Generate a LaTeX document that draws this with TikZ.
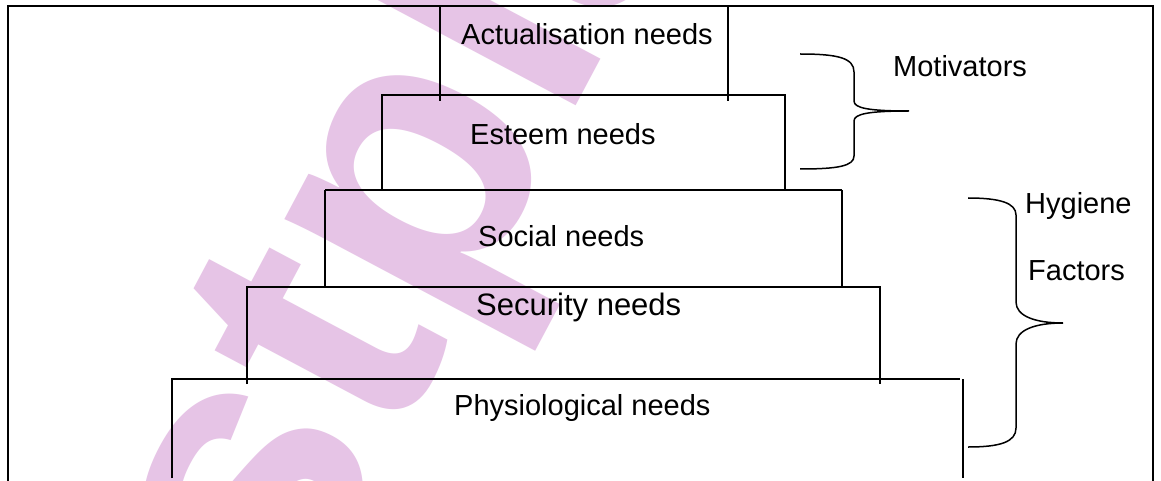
\documentclass[tikz,border=0pt]{standalone}
\usepackage{fontspec}
\setmainfont{Liberation Sans}
\newfontfamily\wmfont{Liberation Sans}
\definecolor{wmpink}{RGB}{230,196,230}
\definecolor{inkpurple}{RGB}{60,25,60}
\tikzset{
  x=1pt, y=-1pt,
  frameline/.style={line width=2pt, black},
  tierline/.style={line width=1.2pt, black},
  thickline/.style={line width=2pt, black},
  bracepath/.style={line width=1.5pt, black},
  lbl/.style={inner sep=0pt, anchor=base west, font=\fontsize{29}{33}\selectfont},
  biglbl/.style={lbl, font=\fontsize{31}{35}\selectfont},
}
\begin{document}
\begin{tikzpicture}
\useasboundingbox (0,0) rectangle (1161,481);
\clip (0,0) rectangle (1161,481);
\fill[white] (0,0) rectangle (1161,481);
% watermark
\node[inner sep=0pt, anchor=base west, rotate=62, text=wmpink,
      font=\wmfont\bfseries\fontsize{385}{385}\selectfont] (wm) at (292,640) {stpla};
% frame
\draw[frameline] (8,490) -- (8,6) -- (1153,6) -- (1153,490);
% actualisation
\draw[tierline] (440,6) -- (440,101);
\draw[tierline] (728,6) -- (728,101);
% esteem
\draw[tierline] (382,190) -- (382,95) -- (785,95) -- (785,190);
\draw[thickline] (382,190) -- (785,190);
% social
\draw[tierline] (325,190) -- (842,190);
\draw[tierline] (325,190) -- (325,287);
\draw[tierline] (842,190) -- (842,287);
\draw[thickline] (325,287) -- (842,287);
% security
\draw[tierline] (247,384) -- (247,287) -- (880,287) -- (880,384);
% physiological
\draw[tierline] (172,478) -- (172,379) -- (960,379);
\draw[tierline] (963,379) -- (963,478);
% labels
\node[lbl] (act) at (461,45) {Actualisation needs};
\node[lbl] (est) at (470,145) {Esteem needs};
\node[lbl] (soc) at (478,246) {Social needs};
\node[biglbl] (sec) at (476,315) {Security needs};
\node[lbl] (phy) at (454,415) {Physiological needs};
\node[lbl] (mot) at (893,77) {Motivators};
\node[lbl] (hyg) at (1025,213) {Hygiene};
\node[lbl] (fac) at (1028,280) {Factors};
% braces
\draw[bracepath] (800,54) .. controls (838,54) and (854,58) .. (854,72)
  -- (854,101) .. controls (854,108) and (868,111) .. (909,111)
  .. controls (868,111) and (854,114) .. (854,121)
  -- (854,156) .. controls (854,166) and (838,169) .. (800,169);
\draw[bracepath] (968,198) .. controls (1000,198) and (1016,203) .. (1016,215)
  -- (1016,302) .. controls (1016,316) and (1035,323) .. (1063,323)
  .. controls (1035,323) and (1016,330) .. (1016,344)
  -- (1016,428) .. controls (1016,442) and (1000,447) .. (968,447);
\end{tikzpicture}
\end{document}
